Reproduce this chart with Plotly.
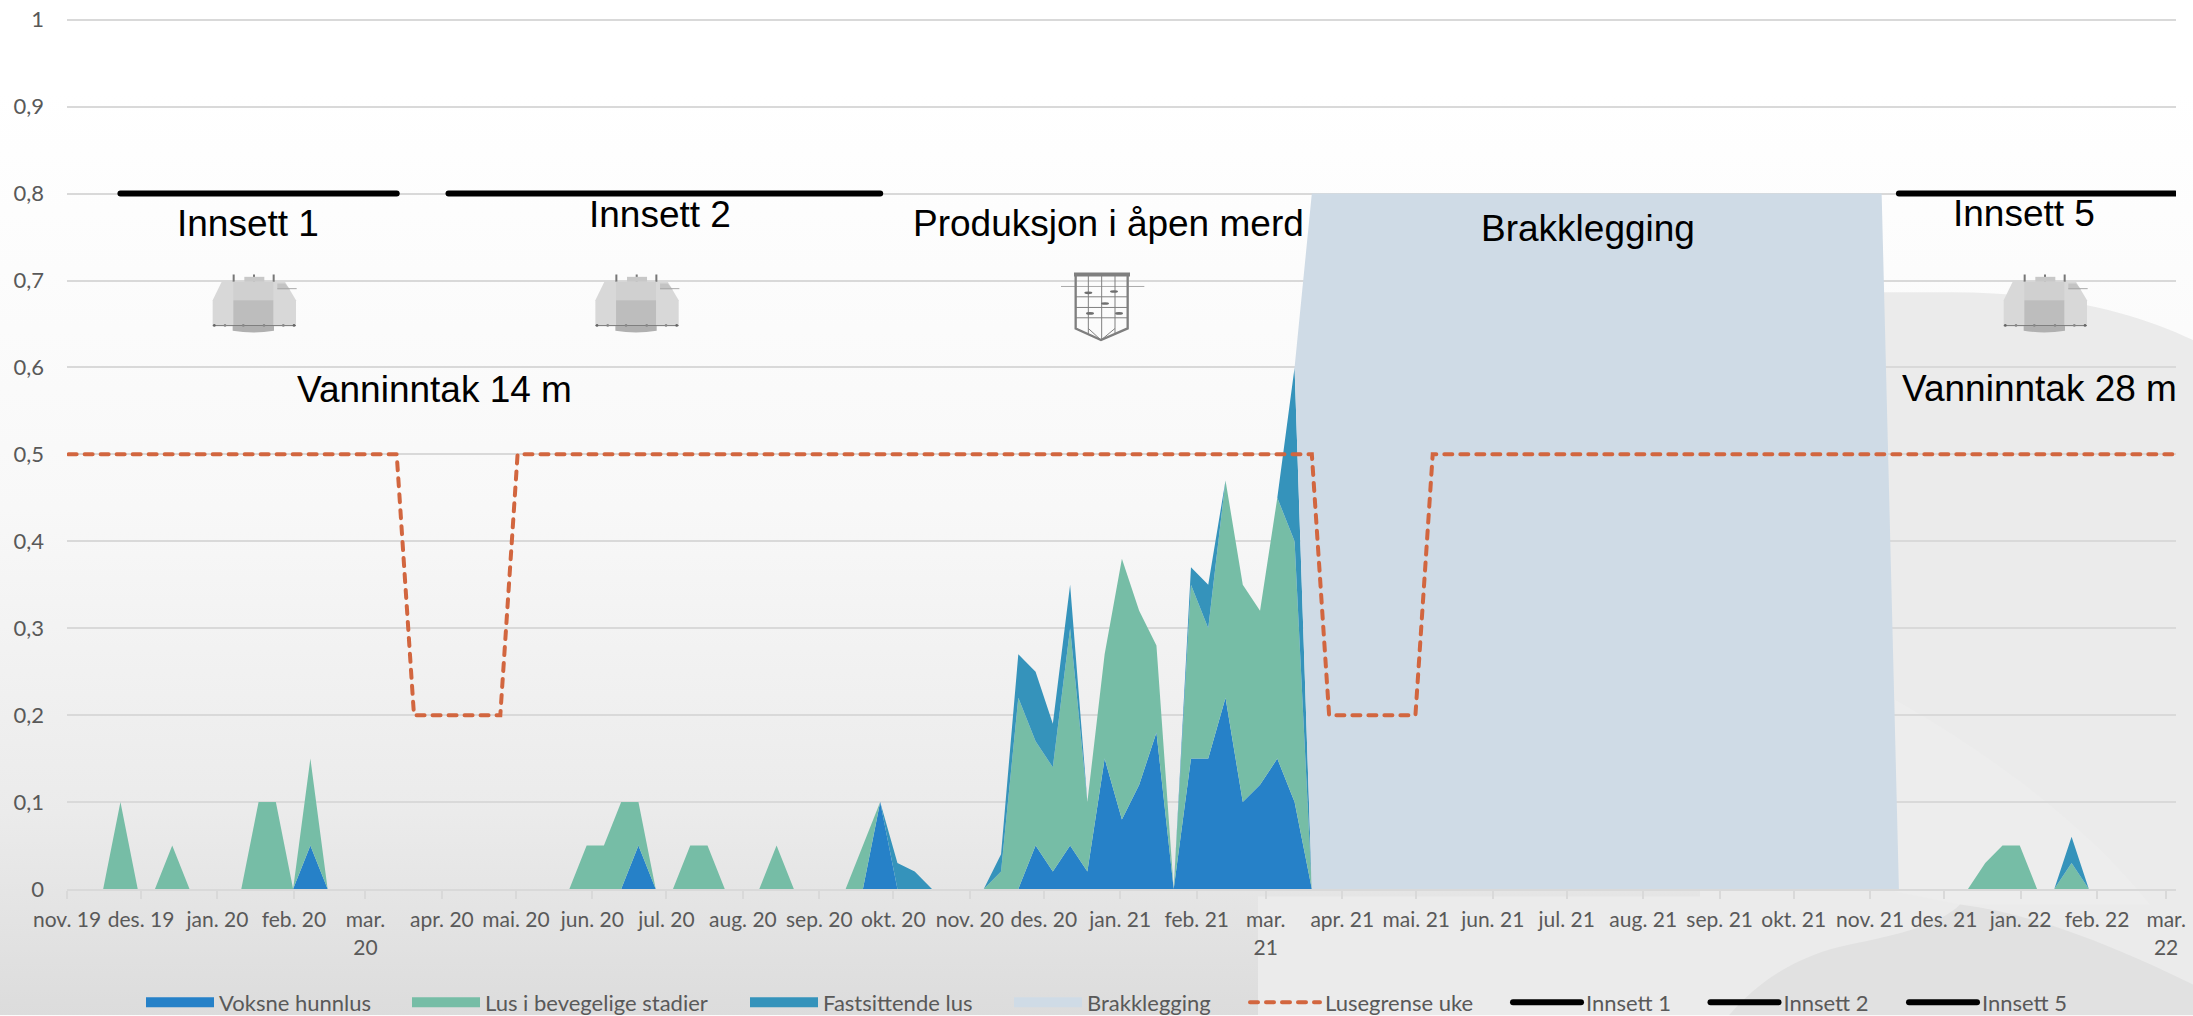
import base64
import pandas as pd
import plotly.graph_objects as go

W, H = 2193, 1016
L, R, T, B = 67, 2176, 17.56, 889.5
Y_TOP = 1.002

# Weekly readings (123 weeks from Nov 2019 to Mar 2022)
voksne_hunnlus = [
    0, 0, 0, 0, 0, 0, 0, 0, 0, 0,
    0, 0, 0, 0, .05, 0, 0, 0, 0, 0,
    0, 0, 0, 0, 0, 0, 0, 0, 0, 0,
    0, 0, 0, .05, 0, 0, 0, 0, 0, 0,
    0, 0, 0, 0, 0, 0, 0, .1, 0, 0,
    0, 0, 0, 0, 0, 0, .05, .02, .05, .02,
    .15, .08, .12, .18, 0, .15, .15, .22, .1, .12,
    .15, .1, 0, 0, 0, 0, 0, 0, 0, 0,
    0, 0, 0, 0, 0, 0, 0, 0, 0, 0,
    0, 0, 0, 0, 0, 0, 0, 0, 0, 0,
    0, 0, 0, 0, 0, 0, 0, 0, 0, 0,
    0, 0, 0, 0, 0, 0, 0, 0, 0, 0,
    0, 0, 0,
]
lus_bevegelige = [
    0, 0, 0, .1, 0, 0, .05, 0, 0, 0,
    0, .1, .1, 0, .1, 0, 0, 0, 0, 0,
    0, 0, 0, 0, 0, 0, 0, 0, 0, 0,
    .05, .05, .1, .05, 0, 0, .05, .05, 0, 0,
    0, .05, 0, 0, 0, 0, .05, 0, 0, 0,
    0, 0, 0, 0, .02, .22, .12, .12, .25, .08,
    .12, .30, .20, .10, 0, .20, .15, .25, .25, .20,
    .30, .30, 0, 0, 0, 0, 0, 0, 0, 0,
    0, 0, 0, 0, 0, 0, 0, 0, 0, 0,
    0, 0, 0, 0, 0, 0, 0, 0, 0, 0,
    0, 0, 0, 0, 0, 0, 0, 0, 0, 0,
    0, .03, .05, .05, 0, 0, .03, 0, 0, 0,
    0, 0, 0,
]
fastsittende = [
    0, 0, 0, 0, 0, 0, 0, 0, 0, 0,
    0, 0, 0, 0, 0, 0, 0, 0, 0, 0,
    0, 0, 0, 0, 0, 0, 0, 0, 0, 0,
    0, 0, 0, 0, 0, 0, 0, 0, 0, 0,
    0, 0, 0, 0, 0, 0, 0, 0, .03, .02,
    0, 0, 0, 0, .02, .05, .08, .05, .05, 0,
    0, 0, 0, 0, 0, .02, .05, 0, 0, 0,
    0, .2, 0, 0, 0, 0, 0, 0, 0, 0,
    0, 0, 0, 0, 0, 0, 0, 0, 0, 0,
    0, 0, 0, 0, 0, 0, 0, 0, 0, 0,
    0, 0, 0, 0, 0, 0, 0, 0, 0, 0,
    0, 0, 0, 0, 0, 0, .03, 0, 0, 0,
    0, 0, 0,
]
brakklegging = [
    0, 0, 0, 0, 0, 0, 0, 0, 0, 0,
    0, 0, 0, 0, 0, 0, 0, 0, 0, 0,
    0, 0, 0, 0, 0, 0, 0, 0, 0, 0,
    0, 0, 0, 0, 0, 0, 0, 0, 0, 0,
    0, 0, 0, 0, 0, 0, 0, 0, 0, 0,
    0, 0, 0, 0, 0, 0, 0, 0, 0, 0,
    0, 0, 0, 0, 0, 0, 0, 0, 0, 0,
    0, 0, .8, .8, .8, .8, .8, .8, .8, .8,
    .8, .8, .8, .8, .8, .8, .8, .8, .8, .8,
    .8, .8, .8, .8, .8, .8, .8, .8, .8, .8,
    .8, .8, .8, .8, .8, .8, 0, 0, 0, 0,
    0, 0, 0, 0, 0, 0, 0, 0, 0, 0,
    0, 0, 0,
]
lusegrense = (
    [.5, .5, .5, .5, .5, .5, .5, .5, .5, .5,
     .5, .5, .5, .5, .5, .5, .5, .5, .5, .5,
     .2, .2, .2, .2, .2, .2, .5, .5, .5, .5,
     .5, .5, .5, .5, .5, .5, .5, .5, .5, .5,
     .5, .5, .5, .5, .5, .5, .5, .5, .5, .5,
     .5, .5, .5, .5, .5, .5, .5, .5, .5, .5,
     .5, .5, .5, .5, .5, .5, .5, .5, .5, .5,
     .5, .5, .5, .2, .2, .2, .2, .2, .2, .5,
     .5, .5, .5, .5, .5, .5, .5, .5, .5, .5,
     .5, .5, .5, .5, .5, .5, .5, .5, .5, .5,
     .5, .5, .5, .5, .5, .5, .5, .5, .5, .5,
     .5, .5, .5, .5, .5, .5, .5, .5, .5, .5,
     .5, .5, .5]
)
n = None
innsett_1 = [n] * 3 + [.8] * 17 + [n] * 103
innsett_2 = [n] * 22 + [.8] * 26 + [n] * 75
innsett_5 = [n] * 106 + [.8] * 17

uker = pd.date_range("2019-11-01 16:00", periods=123, freq="7D")

maaneder = pd.date_range("2019-11-01", "2022-03-01", freq="MS")
maanedsnavn = ["jan.", "feb.", "mar.", "apr.", "mai.", "jun.", "jul.", "aug.",
               "sep.", "okt.", "nov.", "des."]
tick_text = []
for d in maaneder:
    sep = "<br>" if d.month == 3 else " "
    tick_text.append(f"{maanedsnavn[d.month - 1]}{sep}{d.year % 100}")

C_BLUE, C_TEAL, C_FAST, C_BRAK = "#2681C8", "#76BDA6", "#3593BB", "#CFDBE6"
C_ORANGE, C_GRID, C_TEXT = "#D2663F", "#D9D9D9", "#595959"
UI = "Lato"
ARIAL = "Liberation Sans"


def px(x):
    return (x - L) / (R - L)


def py(y):
    return (B - y) / (B - T)


fig = go.Figure()
areas = [("Voksne hunnlus", voksne_hunnlus, C_BLUE),
         ("Lus i bevegelige stadier", lus_bevegelige, C_TEAL),
         ("Fastsittende lus", fastsittende, C_FAST),
         ("Brakklegging", brakklegging, C_BRAK)]
for name, vals, col in areas:
    fig.add_trace(go.Scatter(x=uker, y=vals, name=name, mode="none",
                             stackgroup="lus", fillcolor=col, showlegend=False,
                             hoverinfo="x+y+name"))

fig.add_trace(go.Scatter(x=uker, y=lusegrense, name="Lusegrense uke", mode="lines",
                         line=dict(color=C_ORANGE, width=4, dash="8px,8px"),
                         legend="legend5"))
for k, (name, vals) in enumerate([("Innsett 1", innsett_1), ("Innsett 2", innsett_2),
                                  ("Innsett 5", innsett_5)]):
    fig.add_trace(go.Scatter(x=uker, y=vals, name=name, mode="lines",
                             line=dict(color="black", width=6),
                             legend=f"legend{6 + k}"))

# Legend keys for the stacked areas (wide solid swatches)
for k, (name, vals, col) in enumerate(areas):
    fig.add_trace(go.Scatter(x=[None], y=[None], name=name, mode="lines",
                             line=dict(color=col, width=14),
                             legend="legend" if k == 0 else f"legend{k + 1}"))


def legend_at(sw_x, iw):
    return dict(x=px(sw_x - 5), y=py(1003), xanchor="left", yanchor="middle",
                orientation="v", itemwidth=iw, bgcolor="rgba(0,0,0,0)", borderwidth=0,
                font=dict(family=UI, size=22, color=C_TEXT),
                itemclick=False, itemdoubleclick=False)


bg = f"""<svg xmlns="http://www.w3.org/2000/svg" width="{W}" height="{H}" viewBox="0 0 {W} {H}">
<defs><linearGradient id="g" x1="0" y1="0" x2="0" y2="1">
<stop offset="0.09" stop-color="#ffffff"/><stop offset="0.5" stop-color="#f8f8f8"/>
<stop offset="0.8" stop-color="#ebebeb"/><stop offset="1" stop-color="#dcdcdc"/>
</linearGradient></defs>
<rect width="{W}" height="{H}" fill="url(#g)"/>
<path d="M1258,1016 V897 H1700 V292 H1950 C2050,292 2130,310 2193,340 V1016 Z" fill="#ebebeb"/>
<path d="M1895,700 C2000,760 2090,830 2150,905 L1960,905 L1895,892 Z" fill="#ededed"/>
<path d="M1729,1016 C1760,980 1800,955 1850,945 C1900,935 1940,925 1960,905 C2040,915 2120,950 2193,985 V1016 Z" fill="#e1e1e1"/>
</svg>"""

merd = """<svg xmlns="http://www.w3.org/2000/svg" width="390" height="270" viewBox="0 0 390 270">
<g stroke="none">
<rect x="128" y="43" width="6" height="24" fill="#777"/><rect x="189" y="43" width="6" height="24" fill="#777"/>
<rect x="248" y="43" width="6" height="24" fill="#777"/>
<rect x="163" y="50" width="60" height="15" fill="#c8c8c8"/>
<path d="M95,65 H285 L318,120 V197 H68 V120 Z" fill="#d8d8d8"/>
<path d="M130,65 H250 V120 H130 Z" fill="#d0d0d0"/>
<path d="M130,120 H250 V197 H130 Z" fill="#bdbdbd"/>
<path d="M262,70 H285 L300,88 H262 Z" fill="#c4c4c4"/>
<rect x="262" y="84" width="58" height="3" fill="#aaa"/>
<rect x="68" y="195" width="250" height="3" fill="#777"/>
<path d="M128,198 H252 V212 Q190,222 128,212 Z" fill="#b0b0b0"/>
<circle cx="73" cy="196" r="4" fill="#666"/><circle cx="105" cy="196" r="4" fill="#888"/>
<circle cx="160" cy="196" r="4" fill="#888"/><circle cx="222" cy="196" r="4" fill="#888"/>
<circle cx="280" cy="196" r="4" fill="#888"/><circle cx="312" cy="196" r="4" fill="#666"/>
</g></svg>"""

nett = """<svg xmlns="http://www.w3.org/2000/svg" width="300" height="240" viewBox="0 0 300 240">
<line x1="33" y1="64" x2="283" y2="64" stroke="#999" stroke-width="2.5"/>
<rect x="72" y="22" width="168" height="12" fill="#7f7f7f"/>
<g fill="none" stroke="#7f7f7f" stroke-width="3">
<line x1="115" y1="30" x2="115" y2="208"/><line x1="155" y1="30" x2="155" y2="225"/><line x1="195" y1="30" x2="195" y2="208"/>
<line x1="77" y1="95" x2="233" y2="95"/><line x1="77" y1="127" x2="233" y2="127"/><line x1="77" y1="158" x2="233" y2="158"/>
<line x1="77" y1="190" x2="153" y2="225"/><line x1="233" y1="190" x2="153" y2="225"/>
<line x1="115" y1="190" x2="153" y2="225"/><line x1="195" y1="190" x2="153" y2="225"/>
<path d="M77,30 V190 L153,225 L233,190 V30" stroke-width="7"/>
</g>
<g fill="#6f6f6f"><ellipse cx="115" cy="83" rx="12" ry="4"/><ellipse cx="192" cy="79" rx="12" ry="4"/>
<ellipse cx="165" cy="115" rx="12" ry="4"/><ellipse cx="120" cy="145" rx="12" ry="4"/><ellipse cx="207" cy="145" rx="12" ry="4"/></g>
</svg>"""


def uri(svg):
    return "data:image/svg+xml;base64," + base64.b64encode(svg.encode()).decode()


def image(svg, x, y, w, h, layer):
    return dict(source=uri(svg), xref="paper", yref="paper", x=px(x), y=py(y),
                sizex=w / (R - L), sizey=h / (B - T), xanchor="left", yanchor="top",
                sizing="stretch", layer=layer, opacity=1)


images = [image(bg, 0, 0, W, H, "below"),
          image(merd, 190, 260, 130, 90, "above"),
          image(merd, 572.7, 260, 130, 90, "above"),
          image(merd, 1981, 260, 130, 90, "above"),
          image(nett, 1050, 265, 100, 80, "above")]

labels = [("Innsett 1", 248, 223), ("Innsett 2", 660, 214),
          ("Produksjon i åpen merd", 1108.5, 223), ("Brakklegging", 1588, 228),
          ("Innsett 5", 2024, 213), ("Vanninntak 14 m", 434, 389),
          ("Vanninntak 28 m", 2039, 388)]
annotations = [dict(text=t, x=px(x), y=py(y), xref="paper", yref="paper", showarrow=False,
                    xanchor="center", yanchor="middle",
                    font=dict(family=ARIAL, size=37, color="black"))
               for t, x, y in labels]

fig.update_layout(
    width=W, height=H, autosize=False,
    margin=dict(l=L, r=W - R, t=T, b=H - B, pad=0, autoexpand=False),
    paper_bgcolor="white", plot_bgcolor="rgba(0,0,0,0)",
    separators=", ", images=images, annotations=annotations,
    font=dict(family=UI, size=21, color=C_TEXT),
    xaxis=dict(type="date", range=["2019-11-01", "2022-03-05"],
               tickmode="array", tickvals=list(maaneder), ticktext=tick_text,
               tickangle=0, ticks="outside", ticklen=8, tickwidth=1.5, tickcolor=C_GRID,
               showgrid=False, showline=True, linecolor=C_GRID, linewidth=2,
               zeroline=False, automargin=False, ticklabelstandoff=3,
               tickfont=dict(family=UI, size=21, color=C_TEXT)),
    yaxis=dict(range=[0, Y_TOP], dtick=.1, tick0=0, showgrid=True, gridcolor=C_GRID, gridwidth=1.5,
               zeroline=False, showline=False, ticks="", ticklabelstandoff=22,
               automargin=False, tickfont=dict(family=UI, size=22, color=C_TEXT)),
    legend=legend_at(146, 68), legend2=legend_at(412, 68), legend3=legend_at(750, 68),
    legend4=legend_at(1014, 68), legend5=legend_at(1250, 70), legend6=legend_at(1513, 68),
    legend7=legend_at(1710.5, 68), legend8=legend_at(1909, 68),
)

post = """
document.body.style.margin='0';
document.documentElement.style.overflow='hidden';
document.querySelectorAll('.scatterlayer .js-line').forEach(function(p){p.style.strokeLinecap='round';});
document.querySelectorAll('.legendlines path').forEach(function(p){
  var w=parseFloat(p.style.strokeWidth);
  if(w<10){p.style.strokeLinecap='round';}
});
"""
fig.write_html("out.html", config=dict(displayModeBar=False), post_script=post)
